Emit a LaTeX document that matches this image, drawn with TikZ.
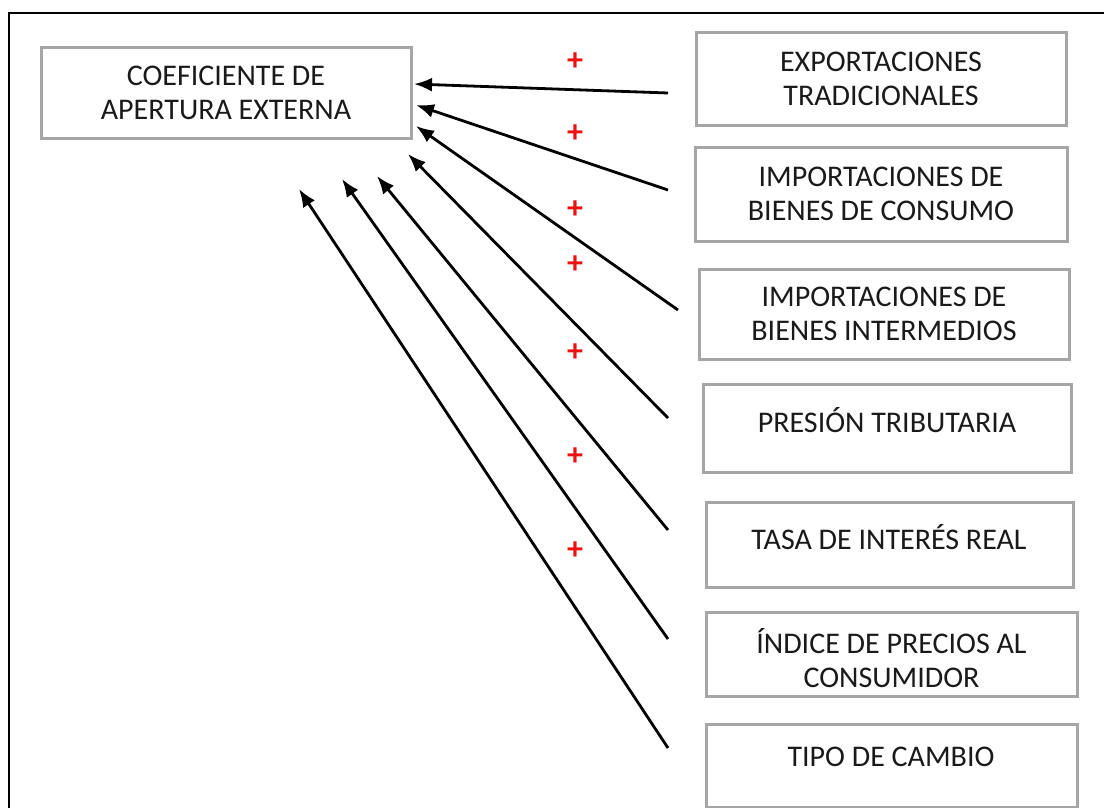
\documentclass[tikz,border=0pt]{standalone}
\usepackage{fontspec}
\setmainfont{Carlito}
\usetikzlibrary{arrows.meta}
\definecolor{boxgray}{HTML}{A6A6A6}
\definecolor{txt}{HTML}{1A1A1A}
\definecolor{plusred}{HTML}{EE1111}
\tikzset{
  boxnode/.style={draw=boxgray, line width=3pt, rectangle, inner sep=0pt},
  label2/.style={text=txt, font=\fontsize{30}{34}\selectfont, align=center, inner sep=0pt},
  plussign/.style={text=plusred, font=\fontsize{32}{34}\selectfont\bfseries, inner sep=0pt},
  arr/.style={line width=2.8pt, -{Latex[length=18pt,width=14pt]}},
  frame/.style={line width=2.4pt, draw=black}
}
\newcommand{\mkbox}[5]{% name, x1, y1, x2, y2
  \node[boxnode, minimum width={(#4-#2)*1pt}, minimum height={(#5-#3)*1pt}] (#1) at ({(#2+#4)/2},{(#3+#5)/2}) {};}
\begin{document}
\begin{tikzpicture}[x=1pt,y=-1pt]
\useasboundingbox (0,0) rectangle (1104,808);
\fill[white] (0,0) rectangle (1104,808);
% outer frame (cropped)
\draw[frame] (9,808) -- (9,13) -- (1104,13);

% boxes
\mkbox{main}{41}{48}{411}{138}
\mkbox{b1}{696}{33}{1066}{125}
\mkbox{b2}{695}{147}{1067}{241}
\mkbox{b3}{699}{269}{1069}{359}
\mkbox{b4}{703}{384}{1071}{472}
\mkbox{b5}{706}{502}{1073}{587}
\mkbox{b6}{706}{612}{1077}{696}
\mkbox{b7}{706}{724}{1077}{807}

% texts
\node[label2] (tmain) at (main.center) {COEFICIENTE DE\\APERTURA EXTERNA};
\node[label2] (t1) at (b1.center) {EXPORTACIONES\\TRADICIONALES};
\node[label2] (t2) at (b2.center) {IMPORTACIONES DE\\BIENES DE CONSUMO};
\node[label2] (t3) at (b3.center) {IMPORTACIONES DE\\BIENES INTERMEDIOS};
\node[label2] (t4) at (887,420) {PRESIÓN TRIBUTARIA};
\node[label2] (t5) at (889,537) {TASA DE INTERÉS REAL};
\node[label2] (t6) at ([yshift=-4pt]b6.center) {ÍNDICE DE PRECIOS AL\\CONSUMIDOR};
\node[label2] (t7) at (891,757) {TIPO DE CAMBIO};

% arrow end points
\coordinate (s1) at (668,93);  \coordinate (e1) at (414,84);
\coordinate (s2) at (668,190); \coordinate (e2) at (416,105);
\coordinate (s3) at (678,310); \coordinate (e3) at (416,126);
\coordinate (s4) at (668,418); \coordinate (e4) at (408,154);
\coordinate (s5) at (668,530); \coordinate (e5) at (377,176);
\coordinate (s6) at (668,639); \coordinate (e6) at (342,179);
\coordinate (s7) at (668,748); \coordinate (e7) at (299,189);
\foreach \i in {1,...,7}{\draw[arr] (s\i) -- (e\i);}

% plus signs
\node[plussign] (p1) at (575,62) {+};
\node[plussign] (p2) at (575,134) {+};
\node[plussign] (p3) at (575,210) {+};
\node[plussign] (p4) at (575,265) {+};
\node[plussign] (p5) at (575,353) {+};
\node[plussign] (p6) at (575,457) {+};
\node[plussign] (p7) at (575,551) {+};
\end{tikzpicture}
\end{document}
